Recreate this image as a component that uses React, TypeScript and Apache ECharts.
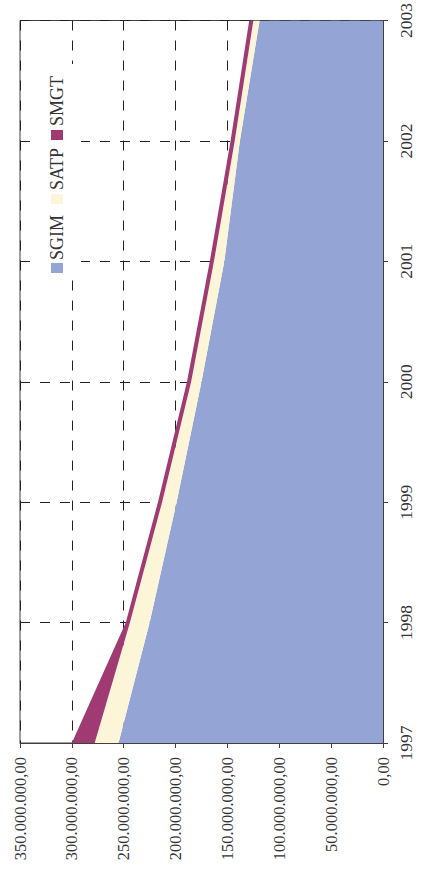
import React, { useEffect, useRef } from "react";
import * as echarts from "echarts";

const years = ["1997", "1998", "1999", "2000", "2001", "2002", "2003"];
const sgim = [255000000, 225000000, 199000000, 175000000, 153000000, 138000000, 119000000];
const satp = [23000000, 19000000, 14000000, 10000000, 10000000, 5000000, 6000000];
const smgt = [22000000, 4000000, 4000000, 4000000, 4000000, 4000000, 4000000];
const seriesNames = ["SGIM", "SATP", "SMGT"];
const colors = ["#94A4D4", "#FDF5D8", "#A03A72"];

const FONT = "'Liberation Serif', 'DejaVu Serif', serif";

function fmt(v: number): string {
  return Math.round(v).toString().replace(/\B(?=(\d{3})+(?!\d))/g, ".") + ",00";
}

export default function App() {
  const ref = useRef<HTMLDivElement>(null);
  useEffect(() => {
    document.body.style.margin = "0";
    const chart = echarts.init(ref.current!, undefined, { renderer: "svg" });
    const values = [sgim, satp, smgt];
    const legendItems = [
      { name: seriesNames[0], color: colors[0], markerY: 263, textY: 260 },
      { name: seriesNames[1], color: colors[1], markerY: 194, textY: 190 },
      { name: seriesNames[2], color: colors[2], markerY: 130, textY: 126 },
    ];
    const graphic: any[] = [
      {
        type: "rect",
        shape: { x: 33, y: 64, width: 48, height: 216 },
        style: { fill: "#ffffff" },
        z: 10,
      },
    ];
    legendItems.forEach((it) => {
      graphic.push({
        type: "rect",
        shape: { x: 51, y: it.markerY, width: 12, height: 10 },
        style: { fill: it.color },
        z: 11,
      });
      graphic.push({
        type: "text",
        x: 57,
        y: it.textY,
        rotation: Math.PI / 2,
        style: {
          text: it.name,
          fill: "#333333",
          font: `18px ${FONT}`,
          textAlign: "left",
          textVerticalAlign: "middle",
        },
        z: 11,
      });
    });
    chart.setOption({
      animation: false,
      backgroundColor: "#ffffff",
      grid: {
        left: 20,
        right: 40,
        top: 20,
        bottom: 129,
        show: true,
        borderColor: "#404040",
        borderWidth: 1,
        backgroundColor: "#ffffff",
      },
      xAxis: {
        type: "value",
        inverse: true,
        min: 0,
        max: 350000000,
        interval: 50000000,
        position: "bottom",
        axisLine: { show: true, lineStyle: { color: "#404040", width: 1 } },
        axisTick: { show: true, length: 5, lineStyle: { color: "#404040" } },
        axisLabel: {
          rotate: 90,
          margin: 14,
          formatter: (v: number) => fmt(v),
          fontFamily: FONT,
          fontSize: 16.5,
          color: "#333333",
        },
        splitLine: {
          show: true,
          lineStyle: { type: [10, 10], color: "#222222", width: 1 },
        },
      },
      yAxis: {
        type: "category",
        data: years,
        position: "right",
        boundaryGap: false,
        axisLine: { show: true, lineStyle: { color: "#404040", width: 1 } },
        axisTick: { show: true, length: 5, lineStyle: { color: "#404040" } },
        axisLabel: {
          rotate: 90,
          margin: 14,
          fontFamily: FONT,
          fontSize: 17.5,
          color: "#333333",
        },
        splitLine: {
          show: true,
          lineStyle: { type: [10, 10], color: "#222222", width: 1 },
        },
      },
      series: seriesNames.map((n, i) => ({
        name: n,
        type: "line",
        stack: "total",
        data: values[i],
        symbol: "none",
        showSymbol: false,
        lineStyle: { width: 0 },
        areaStyle: { color: colors[i], opacity: 1 },
        itemStyle: { color: colors[i] },
      })),
      graphic,
    });
    return () => chart.dispose();
  }, []);
  return (
    <div
      ref={ref}
      style={{ position: "absolute", left: 0, top: 0, width: 423, height: 872 }}
    />
  );
}
